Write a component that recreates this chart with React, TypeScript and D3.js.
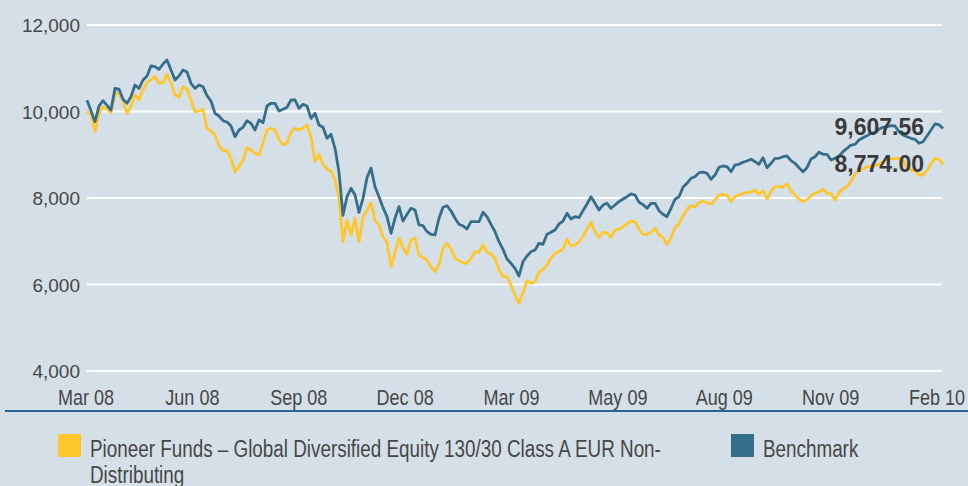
import React from "react";
import * as d3 from "d3";

const tickLabels = ["Mar 08", "Jun 08", "Sep 08", "Dec 08", "Mar 09", "May 09", "Aug 09", "Nov 09", "Feb 10"];
const yTicks = [4000, 6000, 8000, 10000, 12000];

const benchmark = [
  10260, 10020, 9765, 10127, 10250, 10143, 10035, 10536, 10520, 10282,
  10190, 10343, 10613, 10536, 10728, 10821, 11052, 11036, 10976, 11098,
  11191, 10959, 10728, 10821, 10959, 10913, 10652, 10536, 10613, 10574,
  10365, 10243, 9958, 9896, 9787, 9757, 9665, 9417, 9572, 9635,
  9787, 9727, 9572, 9803, 9741, 10127, 10190, 10190, 10012, 10051,
  10097, 10266, 10266, 10074, 10166, 10127, 9842, 9958, 9688, 9635,
  9380, 9473, 9149, 8600, 7600, 8030, 8224, 8069, 7669, 7993,
  8470, 8690, 8261, 8030, 7776, 7568, 7184, 7531, 7800, 7468,
  7623, 7762, 7723, 7376, 7360, 7221, 7161, 7145, 7531, 7785,
  7822, 7700, 7531, 7392, 7353, 7283, 7452, 7452, 7452, 7669,
  7568, 7392, 7221, 6990, 6814, 6590, 6490, 6375, 6197, 6527,
  6659, 6759, 6798, 6953, 6930, 7161, 7207, 7260, 7399, 7468,
  7646, 7515, 7568, 7545, 7707, 7861, 8030, 7878, 7723, 7838,
  7878, 7762, 7838, 7915, 7977, 8030, 8093, 8069, 7900, 7846,
  7762, 7878, 7878, 7707, 7623, 7568, 7762, 7970, 8030, 8247,
  8340, 8456, 8493, 8585, 8601, 8571, 8433, 8532, 8710, 8740,
  8725, 8608, 8763, 8779, 8826, 8856, 8895, 8840, 8779, 8932,
  8701, 8802, 8918, 8918, 8955, 8971, 8863, 8802, 8701, 8608,
  8701, 8902, 8955, 9057, 9010, 9010, 8879, 8918, 8971, 9071,
  9149, 9225, 9241, 9341, 9394, 9441, 9496, 9510, 9588, 9635,
  9650, 9672, 9665, 9533, 9457, 9417, 9380, 9357, 9265, 9302,
  9434, 9572, 9711, 9695, 9607.56,
];

const fund = [
  10000, 9942, 9533, 9958, 10104, 10065, 9972, 10421, 10405, 10250,
  9958, 10127, 10381, 10266, 10513, 10666, 10744, 10805, 10652, 10666,
  10860, 10652, 10381, 10328, 10574, 10528, 10266, 9996, 10012, 10051,
  9612, 9549, 9457, 9202, 9094, 9094, 8918, 8608, 8724, 8879,
  9163, 9110, 9034, 8994, 9265, 9572, 9612, 9572, 9357, 9225,
  9265, 9519, 9612, 9572, 9612, 9688, 9417, 8840, 9010, 8779,
  8671, 8624, 8416, 7993, 6990, 7491, 7145, 7531, 6990, 7568,
  7700, 7892, 7491, 7376, 7099, 6976, 6413, 6722, 7068, 6851,
  6699, 7029, 7068, 6682, 6620, 6560, 6413, 6296, 6467, 6837,
  6953, 6821, 6606, 6551, 6504, 6490, 6606, 6759, 6745, 6913,
  6745, 6705, 6606, 6335, 6190, 6181, 5989, 5757, 5565, 5811,
  6081, 6027, 6065, 6289, 6351, 6451, 6606, 6722, 6759, 6821,
  7052, 6890, 6913, 6983, 7122, 7276, 7438, 7221, 7091, 7207,
  7198, 7091, 7260, 7276, 7337, 7399, 7468, 7452, 7276, 7161,
  7152, 7207, 7300, 7145, 7083, 6921, 7083, 7300, 7399, 7584,
  7738, 7822, 7800, 7892, 7931, 7892, 7854, 7954, 8069, 8077,
  8069, 7915, 8030, 8069, 8100, 8132, 8132, 8185, 8086, 8169,
  7977, 8146, 8261, 8261, 8247, 8331, 8162, 8069, 7977, 7915,
  7961, 8053, 8109, 8146, 8208, 8109, 8100, 7954, 8123, 8216,
  8261, 8377, 8555, 8632, 8671, 8724, 8724, 8740, 8786, 8840,
  8879, 8902, 8918, 8918, 8863, 8687, 8647, 8632, 8532, 8532,
  8632, 8786, 8918, 8895, 8774,
];

const seriesNames = ["Pioneer Funds \u2013 Global Diversified Equity 130/30 Class A EUR Non-", "Distributing"];
const benchName = "Benchmark";

const W = 968;
const H = 486;
const BG = "#d5dfe7";
const YELLOW = "#ffc72c";
const BLUE = "#346e8b";
const TEXT = "#474747";
const SANS = "'Liberation Sans', Arial, sans-serif";
const SQUEEZE = 0.82;

function NarrowText(props: { x: number; y: number; size: number; anchor?: string; children: React.ReactNode }) {
  const { x, y, size, anchor, children } = props;
  return (
    <g transform={`translate(${x},${y}) scale(${SQUEEZE},1)`}>
      <text x={0} y={0} textAnchor={anchor || "start"} fontFamily={SANS} fontSize={size} fill={TEXT}>
        {children}
      </text>
    </g>
  );
}

export default function App() {
  const x = d3.scaleLinear().domain([0, benchmark.length - 1]).range([87, 943]);
  const y = d3.scaleLinear().domain([4000, 12000]).range([371, 25]);
  const xt = d3.scalePoint<string>().domain(tickLabels).range([86, 937]);
  const line = d3
    .line<number>()
    .x((_, i) => x(i))
    .y((d) => y(d))
    .curve(d3.curveLinear);

  const lastB = benchmark[benchmark.length - 1];
  const lastF = fund[fund.length - 1];
  const fmt = d3.format(",.2f");

  return (
    <svg
      width={W}
      height={H}
      style={{ position: "absolute", left: 0, top: 0, background: BG, display: "block" }}
    >
      <rect x={0} y={0} width={W} height={H} fill={BG} />
      {yTicks.map((t) => (
        <g key={t}>
          <line x1={87} x2={942} y1={y(t)} y2={y(t)} stroke="#ffffff" strokeWidth={2} />
          <text x={80} y={y(t) + 7} textAnchor="end" fontFamily={SANS} fontSize={19} fill={TEXT}>
            {d3.format(",")(t)}
          </text>
        </g>
      ))}
      {tickLabels.map((l) => (
        <NarrowText key={l} x={xt(l) as number} y={405} size={22} anchor="middle">
          {l}
        </NarrowText>
      ))}
      <path d={line(fund) || ""} fill="none" stroke={YELLOW} strokeWidth={2.8} strokeLinejoin="round" />
      <path d={line(benchmark) || ""} fill="none" stroke={BLUE} strokeWidth={2.8} strokeLinejoin="round" />
      <text x={924} y={135} textAnchor="end" fontFamily={SANS} fontWeight="bold" fontSize={23} fill="#3a3a3a">
        {fmt(lastB)}
      </text>
      <text x={924} y={172} textAnchor="end" fontFamily={SANS} fontWeight="bold" fontSize={23} fill="#3a3a3a">
        {fmt(lastF)}
      </text>
      <line x1={5} x2={968} y1={411} y2={411} stroke="#2a6496" strokeWidth={2} />
      <rect x={58} y={434} width={23} height={23} fill={YELLOW} />
      <NarrowText x={90} y={457} size={23}>{seriesNames[0]}</NarrowText>
      <NarrowText x={90} y={483} size={23}>{seriesNames[1]}</NarrowText>
      <rect x={731} y={434} width={23} height={23} fill={BLUE} />
      <NarrowText x={763} y={457} size={23}>{benchName}</NarrowText>
    </svg>
  );
}
